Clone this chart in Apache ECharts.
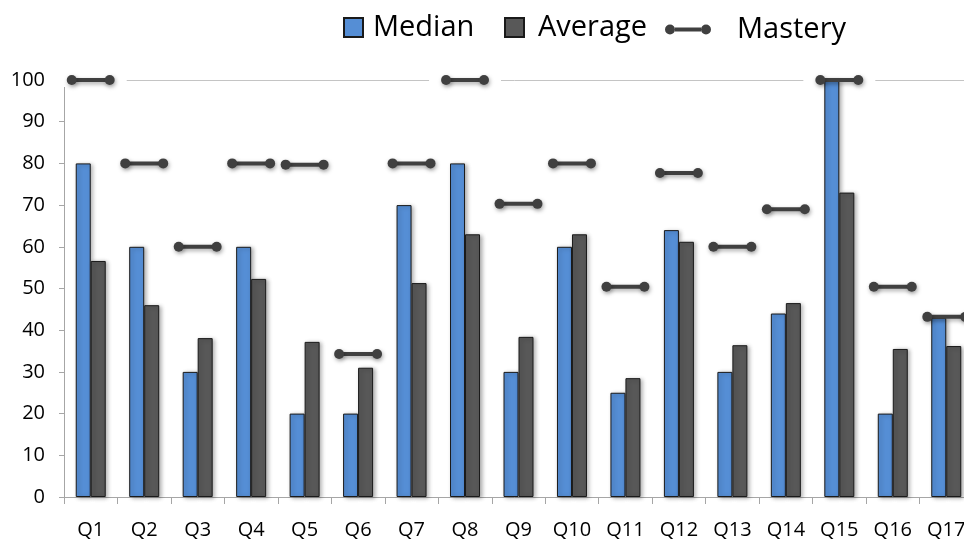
<!DOCTYPE html>
<html>
<head>
<meta charset="utf-8">
<script src="https://cdn.jsdelivr.net/npm/echarts@6/dist/echarts.min.js"></script>
<style>
  html, body { margin: 0; padding: 0; background: #fff; }
  #chart { width: 964px; height: 540px; }
</style>
</head>
<body>
<div id="chart"></div>
<script>
// Question labels along the x axis
const questions = ['Q1','Q2','Q3','Q4','Q5','Q6','Q7','Q8','Q9','Q10','Q11','Q12','Q13','Q14','Q15','Q16','Q17'];
// Median score per question
const medianScores = [80, 60, 30, 60, 20, 20, 70, 80, 30, 60, 25, 64, 30, 44, 100, 20, 43];
// Average score per question
const averageScores = [56.6, 46, 38.1, 52.3, 37.2, 31, 51.3, 63, 38.4, 63, 28.5, 61.2, 36.4, 46.5, 73, 35.5, 36.2];
// Mastery threshold per question
const masteryLevels = [100, 80, 60, 80, 79.7, 34.3, 80, 100, 70.3, 80, 50.4, 77.7, 60, 69, 100, 50.4, 43.2];
// Value axis tick range
const yMin = 0, yMax = 100, yStep = 10;

const FONT = '"Open Sans", "Noto Sans", sans-serif';
const BLUE = '#558ED5';
const DARK = '#585858';
const MARK = '#404040';

// Only the top gridline (at 100) is drawn
const gridColors = [];
for (let v = yMin; v <= yMax; v += yStep) gridColors.push(v === yMax ? '#c4c4c4' : 'rgba(0,0,0,0)');

const masteryIcon = 'path://M0,5A5,5,0,1,1,10,5A5,5,0,1,1,0,5ZM10,3L36,3L36,7L10,7ZM36,5A5,5,0,1,1,46,5A5,5,0,1,1,36,5Z';

// Mastery: a short horizontal bar with round ends spanning the category
function renderMastery(params, api) {
  const p = api.coord([api.value(0), api.value(1)]);
  const half = api.size([1, 0])[0] * 0.355;
  const shadow = { shadowBlur: 4, shadowColor: 'rgba(0,0,0,0.35)', shadowOffsetX: 1, shadowOffsetY: 2 };
  return {
    type: 'group',
    children: [
      { type: 'line', shape: { x1: p[0] - half, y1: p[1], x2: p[0] + half, y2: p[1] },
        style: Object.assign({ stroke: MARK, lineWidth: 4 }, shadow) },
      { type: 'circle', shape: { cx: p[0] - half, cy: p[1], r: 5 }, style: Object.assign({ fill: MARK }, shadow) },
      { type: 'circle', shape: { cx: p[0] + half, cy: p[1], r: 5 }, style: Object.assign({ fill: MARK }, shadow) }
    ]
  };
}

// White glow behind each mastery mark that interrupts the gridline
function renderHalo(params, api) {
  const p = api.coord([api.value(0), api.value(1)]);
  const half = api.size([1, 0])[0] * 0.355 + 17;
  return {
    type: 'rect',
    shape: { x: p[0] - half, y: p[1] - 7, width: half * 2, height: 14, r: 6 },
    style: { fill: '#ffffff' }
  };
}

const masteryData = masteryLevels.map((v, i) => [i, v]);

function legendText(gap) {
  return {
    fontFamily: FONT, fontSize: 29, color: '#000',
    rich: { t: { fontFamily: FONT, fontSize: 29, color: '#000', padding: [0, 0, 0, gap] } }
  };
}

const option = {
  animation: false,
  backgroundColor: '#ffffff',
  legend: [
    { left: 343, top: 13, padding: 0, itemWidth: 19, itemHeight: 19, data: [{ name: 'Median', icon: 'rect' }],
      formatter: '{t|{name}}', textStyle: legendText(5), selectedMode: false },
    { left: 504, top: 13, padding: 0, itemWidth: 19, itemHeight: 19, data: [{ name: 'Average', icon: 'rect' }],
      formatter: '{t|{name}}', textStyle: legendText(9), selectedMode: false },
    { left: 665, top: 15, padding: 0, itemWidth: 46, itemHeight: 10, data: [{ name: 'Mastery', icon: masteryIcon }],
      formatter: '{t|{name}}', textStyle: legendText(21), selectedMode: false }
  ],
  grid: { left: 64, top: 80, bottom: 43, width: 909, containLabel: false, outerBoundsMode: 'none' },
  xAxis: {
    type: 'category',
    data: questions,
    boundaryGap: true,
    axisLine: { lineStyle: { color: '#a6a6a6', width: 1 } },
    axisTick: { show: true, length: 7, alignWithLabel: false, lineStyle: { color: '#a6a6a6' } },
    axisLabel: { fontFamily: FONT, fontSize: 20, color: '#000', margin: 23 },
    splitLine: { show: false }
  },
  yAxis: {
    type: 'value',
    min: yMin, max: yMax, interval: yStep,
    axisLine: { show: true, lineStyle: { color: '#a6a6a6', width: 1 } },
    axisTick: { show: true, length: 5, lineStyle: { color: '#a6a6a6' } },
    axisLabel: { fontFamily: FONT, fontSize: 20, color: '#000', margin: 19 },
    splitLine: { show: true, lineStyle: { color: gridColors, width: 1 } }
  },
  series: [
    {
      name: 'halo', type: 'custom', z: 1, silent: true,
      renderItem: renderHalo, data: masteryData, encode: { x: 0, y: 1 }
    },
    {
      name: 'Median', type: 'bar', z: 2, data: medianScores,
      barWidth: 15, barGap: '0%',
      itemStyle: { color: BLUE, borderColor: '#1a1a1a', borderWidth: 1,
        shadowBlur: 4, shadowColor: 'rgba(0,0,0,0.3)', shadowOffsetX: 2, shadowOffsetY: 1 }
    },
    {
      name: 'Average', type: 'bar', z: 2, data: averageScores,
      barWidth: 15, barGap: '0%',
      itemStyle: { color: DARK, borderColor: '#1a1a1a', borderWidth: 1,
        shadowBlur: 4, shadowColor: 'rgba(0,0,0,0.3)', shadowOffsetX: 2, shadowOffsetY: 1 }
    },
    {
      name: 'Mastery', type: 'custom', z: 3,
      itemStyle: { color: MARK },
      renderItem: renderMastery, data: masteryData, encode: { x: 0, y: 1 }
    }
  ]
};

const chart = echarts.init(document.getElementById('chart'), null, { renderer: 'canvas' });
chart.setOption(option);
</script>
</body>
</html>
